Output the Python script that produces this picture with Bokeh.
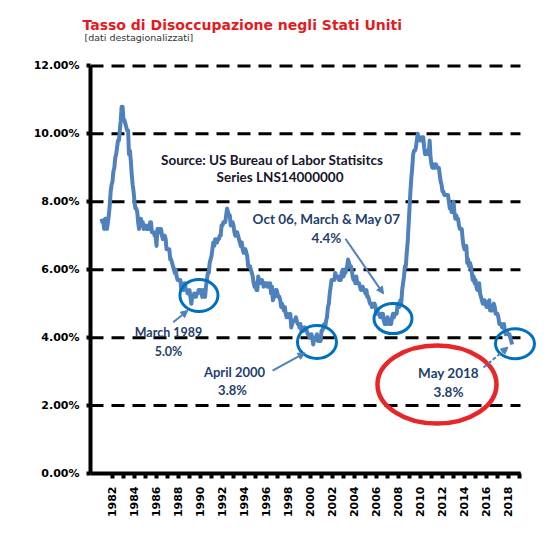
import math
from bokeh.plotting import figure
from bokeh.models import (Range1d, FixedTicker, PrintfTickFormatter, Label,
                          Arrow, NormalHead, Title)
from bokeh.embed import file_html
from bokeh.resources import INLINE

# ---------------- data (US unemployment rate, LNS14000000, monthly, %) -------------
start_year = 1981
rate_1981_1989 = [
    7.5, 7.4, 7.4, 7.2, 7.5, 7.5, 7.2, 7.4, 7.6, 7.9, 8.3, 8.5,
    8.6, 8.9, 9.0, 9.3, 9.4, 9.6, 9.8, 9.8, 10.1, 10.4, 10.8, 10.8,
    10.4, 10.4, 10.3, 10.2, 10.1, 10.1, 9.4, 9.5, 9.2, 8.8, 8.5, 8.3,
    8.0, 7.8, 7.8, 7.7, 7.4, 7.2, 7.5, 7.5, 7.3, 7.4, 7.2, 7.3,
    7.3, 7.2, 7.2, 7.3, 7.2, 7.4, 7.4, 7.1, 7.1, 7.1, 7.0, 7.0,
    6.7, 7.2, 7.2, 7.1, 7.2, 7.2, 7.0, 6.9, 7.0, 7.0, 6.9, 6.6,
    6.6, 6.6, 6.6, 6.3, 6.3, 6.2, 6.1, 6.0, 5.9, 6.0, 5.8, 5.7,
    5.7, 5.7, 5.7, 5.4, 5.6, 5.4, 5.4, 5.6, 5.4, 5.4, 5.3, 5.3,
    5.4, 5.2, 5.0, 5.2, 5.2, 5.3, 5.2, 5.2, 5.3, 5.3, 5.4, 5.4,
]
rate_1990_1999 = [
    5.4, 5.3, 5.2, 5.4, 5.4, 5.2, 5.5, 5.7, 5.9, 5.9, 6.2, 6.3,
    6.4, 6.6, 6.8, 6.7, 6.9, 6.9, 6.8, 6.9, 6.9, 7.0, 7.0, 7.3,
    7.3, 7.4, 7.4, 7.4, 7.6, 7.8, 7.7, 7.6, 7.6, 7.3, 7.4, 7.4,
    7.3, 7.1, 7.0, 7.1, 7.1, 7.0, 6.9, 6.8, 6.7, 6.8, 6.6, 6.5,
    6.6, 6.6, 6.5, 6.4, 6.1, 6.1, 6.1, 6.0, 5.9, 5.8, 5.6, 5.5,
    5.6, 5.4, 5.4, 5.8, 5.6, 5.6, 5.7, 5.7, 5.6, 5.5, 5.6, 5.6,
    5.6, 5.5, 5.5, 5.6, 5.6, 5.3, 5.5, 5.1, 5.2, 5.2, 5.4, 5.4,
    5.3, 5.2, 5.2, 5.1, 4.9, 5.0, 4.9, 4.8, 4.9, 4.7, 4.6, 4.7,
    4.6, 4.6, 4.7, 4.3, 4.4, 4.5, 4.5, 4.5, 4.6, 4.5, 4.4, 4.4,
    4.3, 4.4, 4.2, 4.3, 4.2, 4.3, 4.3, 4.2, 4.2, 4.1, 4.1, 4.0,
]
rate_2000_2009 = [
    4.0, 4.1, 4.0, 3.8, 4.0, 4.0, 4.0, 4.1, 3.9, 3.9, 3.9, 3.9,
    4.2, 4.2, 4.3, 4.4, 4.3, 4.5, 4.6, 4.9, 5.0, 5.3, 5.5, 5.7,
    5.7, 5.7, 5.7, 5.9, 5.8, 5.8, 5.8, 5.7, 5.7, 5.7, 5.9, 6.0,
    5.8, 5.9, 5.9, 6.0, 6.1, 6.3, 6.2, 6.1, 6.1, 6.0, 5.8, 5.7,
    5.7, 5.6, 5.8, 5.6, 5.6, 5.6, 5.5, 5.4, 5.4, 5.5, 5.4, 5.4,
    5.3, 5.4, 5.2, 5.2, 5.1, 5.0, 5.0, 4.9, 5.0, 5.0, 5.0, 4.9,
    4.7, 4.8, 4.7, 4.7, 4.6, 4.6, 4.7, 4.7, 4.5, 4.4, 4.5, 4.4,
    4.6, 4.5, 4.4, 4.5, 4.4, 4.6, 4.7, 4.6, 4.7, 4.7, 4.7, 5.0,
    5.0, 4.9, 5.1, 5.0, 5.4, 5.6, 5.8, 6.1, 6.1, 6.5, 6.8, 7.3,
    7.8, 8.3, 8.7, 9.0, 9.4, 9.5, 9.5, 9.6, 9.8, 10.0, 9.9, 9.9,
]
rate_2010_2018 = [
    9.8, 9.8, 9.9, 9.9, 9.6, 9.4, 9.4, 9.5, 9.5, 9.4, 9.8, 9.3,
    9.1, 9.0, 9.0, 9.1, 9.0, 9.1, 9.0, 9.0, 9.0, 8.8, 8.6, 8.5,
    8.3, 8.3, 8.2, 8.2, 8.2, 8.2, 8.2, 8.0, 7.8, 7.8, 7.7, 7.9,
    8.0, 7.7, 7.5, 7.6, 7.5, 7.5, 7.3, 7.2, 7.2, 7.2, 6.9, 6.7,
    6.6, 6.7, 6.7, 6.2, 6.3, 6.1, 6.2, 6.1, 5.9, 5.7, 5.8, 5.6,
    5.7, 5.5, 5.4, 5.4, 5.6, 5.3, 5.2, 5.1, 5.0, 5.0, 5.1, 5.0,
    4.9, 4.9, 5.0, 5.1, 4.8, 4.9, 4.8, 4.9, 5.0, 4.9, 4.7, 4.7,
    4.7, 4.6, 4.4, 4.4, 4.4, 4.3, 4.3, 4.4, 4.2, 4.1, 4.2, 4.1,
    4.1, 4.1, 4.0, 3.9, 3.8,
]
y_ticks = [0, 2, 4, 6, 8, 10, 12]
x_label_years = list(range(1982, 2019, 2))
x_tick_years = list(range(1982, 2020))

# circled lows: (year position, rate)
circle_x = [1989.86, 2000.59, 2007.5, 2018.59]
circle_y = [5.24, 3.87, 4.56, 3.82]

rates = rate_1981_1989 + rate_1990_1999 + rate_2000_2009 + rate_2010_2018
months = [start_year + i / 12 for i in range(len(rates))]

# ---------------- figure -------------------------------------------------------------
p = figure(width=542, height=528, output_backend="svg", toolbar_location=None,
           title=None,
           x_range=Range1d(1980, 2020.91), y_range=Range1d(0, 12.1),
           min_border_left=90, min_border_right=2, min_border_top=62,
           min_border_bottom=55)
p.outline_line_color = None
p.background_fill_color = "white"
p.border_fill_color = "white"
p.xgrid.visible = False
p.ygrid.visible = False

# titles
p.add_layout(Title(text="[dati destagionalizzati]", align="left",
                   text_font="DejaVu Sans", text_font_size="9.5px",
                   text_font_style="normal", text_color="#333333",
                   offset=-6, standoff=40), "above")
p.add_layout(Title(text="Tasso di Disoccupazione negli Stati Uniti", align="left",
                   text_font="DejaVu Sans", text_font_size="14px",
                   text_font_style="bold", text_color="#E31B23",
                   offset=-8, standoff=-46), "above")

# dashed horizontal grid lines (from y ticks)
x_axis_end = 2019.09
p.segment(x0=[1980] * len(y_ticks), x1=[x_axis_end] * len(y_ticks),
          y0=y_ticks, y1=y_ticks, line_color="black", line_width=3,
          line_dash="13 8")

# axes
for ax in (p.xaxis[0], p.yaxis[0]):
    ax.axis_line_width = 4
    ax.axis_line_color = "black"
    ax.major_tick_line_width = 4
    ax.major_tick_line_color = "black"
    ax.major_tick_in = 0
    ax.minor_tick_line_color = None
    ax.major_label_text_font = "DejaVu Sans"
    ax.major_label_text_font_style = "bold"
    ax.major_label_text_font_size = "11px"
    ax.major_label_text_color = "black"

p.xaxis.bounds = (1980, x_axis_end)
p.xaxis.ticker = FixedTicker(ticks=x_tick_years)
p.xaxis.major_label_overrides = {yr: (str(yr) if yr in x_label_years else "")
                                 for yr in x_tick_years}
p.xaxis.major_label_orientation = math.pi / 2
p.xaxis.major_tick_out = 5
p.xaxis.major_label_standoff = 8

p.yaxis.bounds = (0, 12)
p.yaxis.ticker = FixedTicker(ticks=y_ticks)
p.yaxis.formatter = PrintfTickFormatter(format="%.2f%%")
p.yaxis.major_tick_out = 4
p.yaxis.major_label_standoff = 7

# series line
p.line(months, rates, line_color="#4F81BD", line_width=4, line_join="round")

# circles
p.ellipse(x=circle_x, y=circle_y, width=[38, 39, 38, 39], height=[32, 33, 30, 30],
          width_units="screen", height_units="screen", fill_color=None,
          line_color="#0070C0", line_width=3)

# red freehand loop
p.ellipse(x=[2011.5], y=[2.62], width=[119], height=[78], width_units="screen",
          height_units="screen", fill_color=None, line_color="#E8262A", line_width=4.5)

# arrows
arrow_color = "#4F81BD"
def add_arrow(x0, y0, x1, y1, dash="solid"):
    p.add_layout(Arrow(x_start=x0, y_start=y0, x_end=x1, y_end=y1,
                       line_color=arrow_color, line_width=2, line_dash=dash,
                       end=NormalHead(size=7, fill_color=arrow_color,
                                      line_color=arrow_color, line_width=1)))

add_arrow(1987.52, 4.45, 1988.85, 4.8)
add_arrow(1996.55, 3.03, 1999.5, 3.55)
add_arrow(2003.18, 6.91, 2006.64, 5.29)
add_arrow(2015.73, 3.12, 2017.95, 3.72, dash="4 2")

# texts
def add_text(x, y, text, size, color):
    p.add_layout(Label(x=x, y=y, text=text, text_font="Lato", text_font_size=size,
                       text_font_style="bold", text_color=color, text_align="center",
                       text_baseline="middle"))

navy = "#1F3F6E"
src = "#15152a"
add_text(1996.82, 9.24, "Source:  US  Bureau of Labor Statisitcs", "13.5px", src)
add_text(1997.23, 8.74, "Series LNS14000000", "13.5px", src)
add_text(2001.45, 7.5, "Oct 06, March & May 07", "13.5px", navy)
add_text(2001.45, 6.94, "4.4%", "13.5px", navy)
add_text(1987.09, 4.15, "March 1989", "12.5px", navy)
add_text(1987.09, 3.59, "5.0%", "12.5px", navy)
add_text(1993.09, 3.0, "April 2000", "13px", navy)
add_text(1992.91, 2.47, "3.8%", "13px", navy)
add_text(2012.55, 2.97, "May 2018", "13.5px", navy)
add_text(2012.55, 2.41, "3.8%", "13.5px", navy)

open("out.html", "w").write(file_html(p, INLINE))
